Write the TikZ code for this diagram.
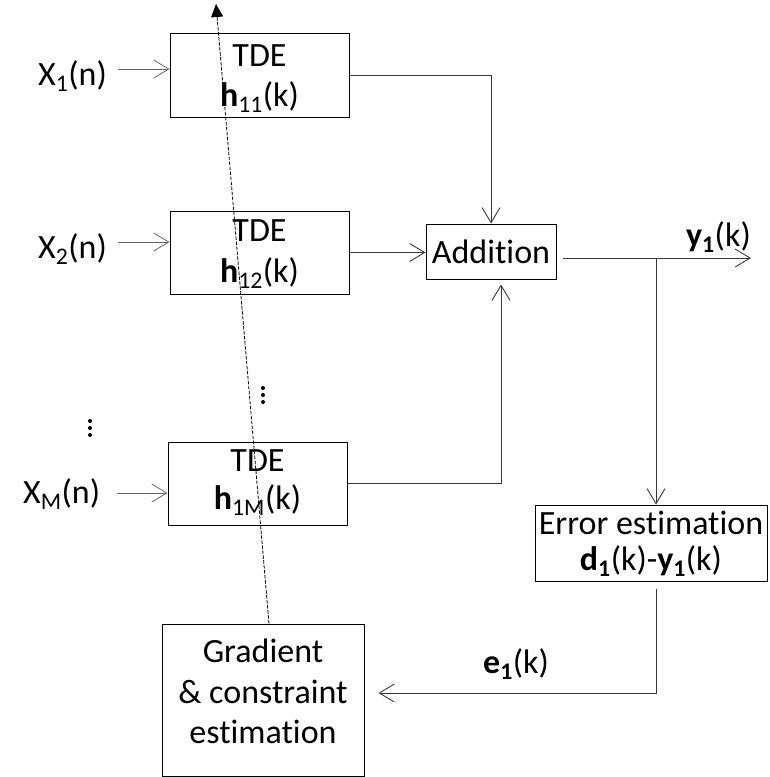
\documentclass[tikz,border=0pt]{standalone}
\usepackage{fontspec}
\setmainfont{Carlito}[Ligatures=NoCommon]
\usetikzlibrary{arrows.meta,calc}
\newcommand\bigfont{\fontsize{34}{40}\selectfont}
\begin{document}
\begin{tikzpicture}[x=1pt,y=-1pt,
  box/.style={draw=black,line width=1pt,inner sep=0pt},
  lab/.style={inner sep=0pt,font=\bigfont},
  txt/.style={inner sep=0pt,font=\bigfont,anchor=base},
  dotn/.style={circle,fill=black,inner sep=0pt,minimum size=4pt},
  conn/.style={draw=black!78,line width=1pt},
  arr/.style={conn,-{Straight Barb[length=15pt,width=18pt,line width=0.9pt]}},
  inarr/.style={draw=black!60,line width=0.9pt,-{Straight Barb[length=15pt,width=18pt,line width=0.8pt]}},
  dsh/.style={draw=black,line width=0.8pt,dash pattern=on 3.5pt off 1.5pt,-{Triangle[length=13pt,width=12pt]}}]
\useasboundingbox (0,0) rectangle (769,777);

% boxes
\node[box,minimum width=179pt,minimum height=84pt] (tde1) at (259.5,75) {};
\node[box,minimum width=179pt,minimum height=83pt] (tde2) at (259.5,252.5) {};
\node[box,minimum width=179pt,minimum height=83pt] (tde3) at (257.5,483.5) {};
\node[box,minimum width=130pt,minimum height=55pt,font=\bigfont] (add) at (491,251.5) {Addition};
\node[box,minimum width=232pt,minimum height=76pt] (err) at (651,543) {};
\node[box,minimum width=202pt,minimum height=152pt] (grad) at (263,700) {};

% box texts
\node[txt] (t1a) at (259.5,66) {TDE};
\node[txt] (t1b) at (259.5,106) {\textbf{h}\textsubscript{11}(k)};
\node[txt] (t2a) at (259.5,241) {TDE};
\node[txt] (t2b) at (259.5,282) {\textbf{h}\textsubscript{12}(k)};
\node[txt] (t3a) at (257.5,471) {TDE};
\node[txt] (t3b) at (257.5,509) {\textbf{h}\textsubscript{1M}(k)};
\node[txt] (ea) at (651,534) {Error estimation};
\node[txt] (eb) at (651,570) {\textbf{d\textsubscript{1}}(k)-\textbf{y\textsubscript{1}}(k)};
\node[txt] (ga) at (263,662) {Gradient};
\node[txt] (gb) at (263,703) {\&~constraint};
\node[txt] (gc) at (263,743) {estimation};

% input labels
\node[lab,anchor=base west] (x1) at (38,85) {X\textsubscript{1}(n)};
\node[lab,anchor=base west] (x2) at (38,258) {X\textsubscript{2}(n)};
\node[lab,anchor=base west] (xm) at (23,503) {X\textsubscript{M}(n)};

% vertical dots
\node[dotn] (d1a) at (263,388) {};
\node[dotn] (d1b) at (263,395) {};
\node[dotn] (d1c) at (263,402) {};
\node[dotn] (d2a) at (90,421) {};
\node[dotn] (d2b) at (90,428) {};
\node[dotn] (d2c) at (90,435) {};

% input arrows
\coordinate (s1) at (118,69);
\coordinate (s2) at (118,242);
\coordinate (s3) at (117,493);
\draw[inarr] (s1) -- (s1 -| tde1.west);
\draw[inarr] (s2) -- (s2 -| tde2.west);
\draw[inarr] (s3) -- (s3 -| tde3.west);

% to addition
\draw[arr] (tde1.east) -| (add.north);
\draw[arr] (tde2.east) -- (tde2.east -| add.west);
\draw[arr,shorten >=5pt] (tde3.east) -| ($(add.south)+(10,0)$);

% output
\coordinate (br) at (656,258);
\coordinate (yend) at (751,258);
\draw[arr] ($(add.east |- br)+(6,0)$) -- (yend);
\node[lab,anchor=base east] (ylab) at (751,246) {\textbf{y\textsubscript{1}}(k)};
\draw[arr] (br) -- (br |- err.north);

% error feedback
\coordinate (ec) at (656,693);
\draw[arr,shorten <=7pt,shorten >=14pt] (err.south -| ec) -- (ec) -- (ec -| grad.east);
\node[lab,anchor=base west] (elab) at (483,673) {\textbf{e\textsubscript{1}}(k)};

% dashed adaptation arrow
\coordinate (dt) at (216,4);
\draw[dsh] ($(grad.north)+(6,0)$) -- (dt);
\end{tikzpicture}
\end{document}
